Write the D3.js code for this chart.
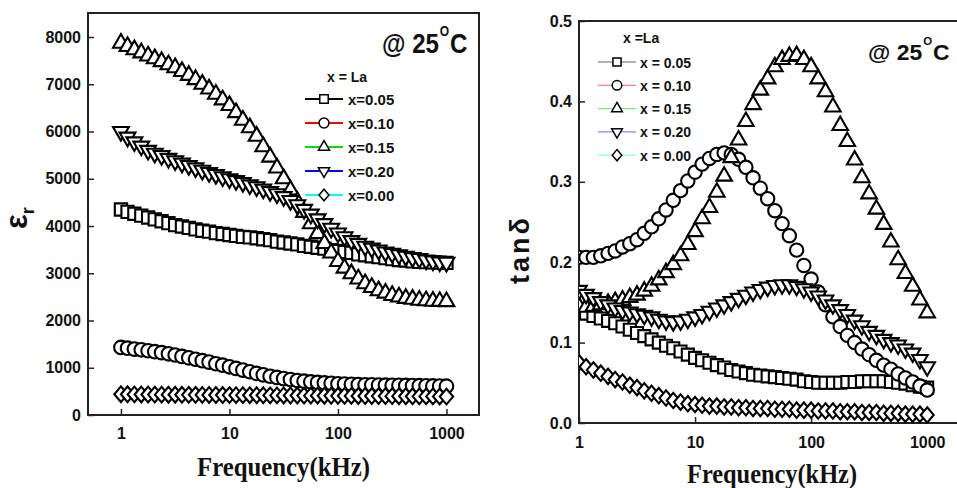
<!DOCTYPE html>
<html>
<head>
<meta charset="utf-8">
<script src="https://cdn.jsdelivr.net/npm/d3@7"></script>
<style>
  body { margin: 0; background: #fff; }
</style>
</head>
<body>
<svg id="chart" width="957" height="488"></svg>
<script>
// frequency points (kHz), one line per decade
const freqs = [
  1, 1.15, 1.33, 1.54, 1.78, 2.05, 2.37, 2.74, 3.16, 3.65, 4.22, 4.87, 5.62, 6.49, 7.50, 8.66,
  10, 11.5, 13.3, 15.4, 17.8, 20.5, 23.7, 27.4, 31.6, 36.5, 42.2, 48.7, 56.2, 64.9, 75.0, 86.6,
  100, 115, 133, 154, 178, 205, 237, 274, 316, 365, 422, 487, 562, 649, 750, 866,
  1000
]

const seriesNames = ["x=0.05", "x=0.10", "x=0.15", "x=0.20", "x=0.00"]
const seriesNamesTan = ["x = 0.05", "x = 0.10", "x = 0.15", "x = 0.20", "x = 0.00"]
const seriesColors = ["#000000", "#ff0000", "#00e000", "#0000ff", "#00ffff"]

// dielectric constant
const epsX005 = [
  4350, 4300, 4260, 4220, 4180, 4140, 4100, 4060, 4020, 3990, 3960, 3930, 3900, 3880, 3850, 3830,
  3810, 3790, 3770, 3760, 3740, 3720, 3700, 3670, 3650, 3630, 3610, 3580, 3560, 3540, 3520, 3490,
  3470, 3450, 3430, 3400, 3380, 3360, 3340, 3320, 3300, 3280, 3270, 3250, 3240, 3235, 3230, 3225,
  3220
]
const epsX010 = [
  1430, 1415, 1395, 1380, 1360, 1340, 1320, 1295, 1270, 1240, 1210, 1180, 1150, 1120, 1085, 1055,
  1020, 985, 950, 915, 880, 850, 820, 795, 770, 750, 730, 715, 700, 690, 680, 670,
  660, 655, 650, 645, 640, 638, 635, 632, 630, 628, 625, 622, 620, 618, 615, 612,
  610
]
const epsX015 = [
  7870, 7800, 7730, 7665, 7600, 7540, 7480, 7415, 7350, 7270, 7190, 7100, 7000, 6900, 6790, 6670,
  6550, 6400, 6240, 6080, 5900, 5680, 5460, 5230, 5000, 4760, 4520, 4290, 4050, 3840, 3630, 3430,
  3250, 3110, 2990, 2880, 2780, 2700, 2630, 2580, 2530, 2500, 2470, 2450, 2430, 2420, 2410, 2405,
  2400
]
const epsX020 = [
  6000, 5880, 5780, 5690, 5600, 5540, 5490, 5430, 5380, 5330, 5280, 5230, 5180, 5130, 5090, 5040,
  5000, 4960, 4920, 4870, 4830, 4780, 4730, 4680, 4620, 4540, 4450, 4350, 4250, 4150, 4050, 3950,
  3850, 3770, 3690, 3630, 3570, 3530, 3490, 3450, 3420, 3390, 3360, 3330, 3310, 3280, 3260, 3240,
  3230
]
const epsX000 = [
  440, 438, 436, 435, 434, 432, 431, 430, 429, 428, 427, 426, 425, 424, 423, 422,
  421, 420, 420, 419, 418, 417, 416, 415, 414, 413, 412, 411, 410, 409, 408, 407,
  406, 405, 404, 403, 402, 401, 400, 400, 399, 398, 397, 396, 395, 394, 393, 392,
  390
]

// loss tangent
const tanX005 = [
  0.140, 0.136, 0.133, 0.130, 0.127, 0.124, 0.120, 0.116, 0.112, 0.108, 0.104, 0.100, 0.096, 0.093, 0.089, 0.085,
  0.081, 0.078, 0.075, 0.072, 0.069, 0.066, 0.064, 0.062, 0.060, 0.059, 0.058, 0.057, 0.056, 0.055, 0.054, 0.052,
  0.051, 0.050, 0.050, 0.050, 0.050, 0.051, 0.051, 0.052, 0.052, 0.052, 0.052, 0.051, 0.050, 0.049, 0.047, 0.045,
  0.044
]
const tanX010 = [
  0.206, 0.206, 0.206, 0.208, 0.211, 0.214, 0.219, 0.223, 0.228, 0.236, 0.244, 0.254, 0.265, 0.277, 0.289, 0.301,
  0.312, 0.322, 0.329, 0.334, 0.336, 0.334, 0.328, 0.318, 0.305, 0.292, 0.279, 0.264, 0.248, 0.233, 0.215, 0.196,
  0.179, 0.163, 0.147, 0.132, 0.120, 0.109, 0.100, 0.092, 0.085, 0.078, 0.072, 0.067, 0.061, 0.056, 0.051, 0.046,
  0.041
]
const tanX015 = [
  0.145, 0.144, 0.145, 0.147, 0.149, 0.151, 0.153, 0.156, 0.159, 0.164, 0.170, 0.178, 0.187, 0.197, 0.208, 0.222,
  0.238, 0.254, 0.268, 0.287, 0.307, 0.330, 0.352, 0.375, 0.396, 0.414, 0.428, 0.443, 0.452, 0.456, 0.457, 0.452,
  0.443, 0.428, 0.412, 0.393, 0.370, 0.350, 0.327, 0.305, 0.285, 0.266, 0.247, 0.225, 0.203, 0.186, 0.170, 0.153,
  0.137
]
const tanX020 = [
  0.165, 0.160, 0.156, 0.151, 0.147, 0.143, 0.140, 0.138, 0.136, 0.134, 0.132, 0.129, 0.127, 0.126, 0.127, 0.129,
  0.132, 0.135, 0.139, 0.143, 0.147, 0.151, 0.155, 0.159, 0.163, 0.166, 0.169, 0.171, 0.172, 0.172, 0.170, 0.167,
  0.163, 0.158, 0.153, 0.147, 0.141, 0.135, 0.128, 0.121, 0.114, 0.109, 0.104, 0.100, 0.097, 0.092, 0.087, 0.079,
  0.070
]
const tanX000 = [
  0.075, 0.070, 0.066, 0.062, 0.058, 0.054, 0.051, 0.047, 0.044, 0.040, 0.037, 0.034, 0.031, 0.028, 0.026, 0.024,
  0.023, 0.022, 0.021, 0.021, 0.020, 0.020, 0.019, 0.019, 0.018, 0.018, 0.018, 0.017, 0.017, 0.017, 0.016, 0.016,
  0.016, 0.015, 0.015, 0.015, 0.014, 0.014, 0.014, 0.013, 0.013, 0.013, 0.012, 0.012, 0.012, 0.011, 0.011, 0.011,
  0.010
]

const freqTicks = [1, 10, 100, 1000]
const epsTicks = [0, 1000, 2000, 3000, 4000, 5000, 6000, 7000, 8000]
const tanTicks = [0, 0.1, 0.2, 0.3, 0.4, 0.5]

const FONT = "'Liberation Sans', Arial, sans-serif"
const SERIF = "'Liberation Serif', 'Times New Roman', serif"

const svg = d3.select("#chart")

// open diamond a bit wider than d3's own
const symDiamond = {
  draw(ctx, size) {
    const h = Math.sqrt(size / 1.7)
    const w = h * 0.85
    ctx.moveTo(0, -h)
    ctx.lineTo(w, 0)
    ctx.lineTo(0, h)
    ctx.lineTo(-w, 0)
    ctx.closePath()
  }
}
const shapes = [d3.symbolSquare, d3.symbolCircle, d3.symbolTriangle, d3.symbolTriangle, symDiamond]
const flipped = [false, false, false, true, false]

function markerTransform(k, px, py) {
  return `translate(${px},${py})` + (flipped[k] ? " rotate(180)" : "")
}

function drawPanel(p) {
  const x = d3.scaleLog().domain(p.xDomain).range([p.left, p.right])
  const y = d3.scaleLinear().domain(p.yDomain).range([p.bottom, p.top])
  const g = svg.append("g")

  const clipId = p.id + "-clip"
  svg.append("clipPath").attr("id", clipId)
    .append("rect")
    .attr("x", p.left).attr("y", p.top - 20)
    .attr("width", p.right - p.left).attr("height", p.bottom - p.top + 40)

  // axes (inward ticks)
  const xAxis = g.append("g")
    .attr("transform", `translate(0,${p.bottom})`)
    .call(d3.axisBottom(x).tickValues(freqTicks).tickFormat(d3.format("d"))
      .tickSize(-6).tickPadding(p.xPad))
  const yAxis = g.append("g")
    .attr("transform", `translate(${p.left},0)`)
    .call(d3.axisLeft(y).tickValues(p.yTicks).tickFormat(p.yFormat)
      .tickSize(-6).tickPadding(7))

  ;[xAxis, yAxis].forEach(a => {
    a.select(".domain").remove()
    a.selectAll("line").attr("stroke", "#222").attr("stroke-width", 1.5)
    a.selectAll("text")
      .attr("font-family", FONT)
      .attr("font-size", 16)
      .attr("font-weight", "bold")
      .attr("fill", "#111")
  })

  // frame
  g.append("rect")
    .attr("x", p.left).attr("y", p.top)
    .attr("width", p.right - p.left).attr("height", p.bottom - p.top)
    .attr("fill", "none").attr("stroke", "#222").attr("stroke-width", 2)

  // markers, later points on top
  p.series.forEach((vals, k) => {
    g.append("g").attr("clip-path", `url(#${clipId})`)
      .selectAll("path")
      .data(freqs.map((f, i) => [f, vals[i]]))
      .join("path")
      .attr("transform", d => markerTransform(k, x(d[0]), y(d[1])))
      .attr("d", d3.symbol(shapes[k], p.sizes[k]))
      .attr("fill", "#fff")
      .attr("stroke", "#000")
      .attr("stroke-width", 2.1)
  })

  // x title
  g.append("text")
    .attr("x", p.xTitle[0]).attr("y", p.xTitle[1])
    .attr("textLength", p.xTitle[2]).attr("lengthAdjust", "spacingAndGlyphs")
    .attr("font-family", SERIF).attr("font-size", 28).attr("font-weight", "bold")
    .attr("fill", "#111")
    .text("Frequency(kHz)")
}

function drawLegend(l) {
  const g = svg.append("g")
  g.append("text")
    .attr("x", l.titleX).attr("y", l.titleY)
    .attr("font-family", FONT).attr("font-size", 14).attr("font-weight", "bold")
    .attr("fill", "#111")
    .text(l.title)

  l.names.forEach((name, k) => {
    const yy = l.rowY + k * l.rowGap
    g.append("line")
      .attr("x1", l.x1).attr("x2", l.x2).attr("y1", yy).attr("y2", yy)
      .attr("stroke", seriesColors[k]).attr("stroke-width", l.lineWidth)
      .attr("stroke-opacity", l.lineOpacity)
    g.append("path")
      .attr("transform", markerTransform(k, (l.x1 + l.x2) / 2, yy))
      .attr("d", d3.symbol(shapes[k], l.sizes[k]))
      .attr("fill", "#fff").attr("stroke", "#000").attr("stroke-width", 1.5)
    g.append("text")
      .attr("x", l.textX).attr("y", yy + 5.5)
      .attr("font-family", FONT).attr("font-size", l.fontSize).attr("font-weight", "bold")
      .attr("fill", "#111")
      .text(name)
  })
}

// "@ 25°C" as one text with a raised "O"
function drawTemp(t) {
  const txt = svg.append("text")
    .attr("transform", `translate(${t.x},${t.base}) scale(${t.sx},1)`)
    .attr("font-family", FONT).attr("font-weight", "bold").attr("fill", "#111")
    .attr("font-size", t.size)
  txt.append("tspan").text("@ 25")
  txt.append("tspan").attr("font-size", t.size * 0.5).attr("dx", 1).attr("dy", -t.rise).text("O")
  txt.append("tspan").attr("dx", 1).attr("dy", t.rise).text("C")
}

// left panel: dielectric constant
drawPanel({
  id: "eps",
  left: 88, right: 479, top: 13, bottom: 415,
  xDomain: [0.497, 1995], yDomain: [0, 8508],
  yTicks: epsTicks, yFormat: d3.format("d"),
  xPad: 13,
  series: [epsX005, epsX010, epsX015, epsX020, epsX000],
  sizes: [150, 145, 108, 108, 104],
  xTitle: [197, 476, 173]
})

// right panel: loss tangent
drawPanel({
  id: "tan",
  left: 579, right: 962, top: 21, bottom: 423,
  xDomain: [1, 1995], yDomain: [0, 0.5],
  yTicks: tanTicks, yFormat: d3.format(".1f"),
  xPad: 14,
  series: [tanX005, tanX010, tanX015, tanX020, tanX000],
  sizes: [144, 140, 104, 104, 100],
  xTitle: [687, 483, 170]
})

drawLegend({
  title: "x = La", titleX: 327, titleY: 82,
  names: seriesNames, x1: 305, x2: 343, textX: 348,
  rowY: 99, rowGap: 24, lineWidth: 2.2, lineOpacity: 1,
  fontSize: 15, sizes: [72, 78, 54, 54, 58]
})

drawLegend({
  title: "x =La", titleX: 623, titleY: 43,
  names: seriesNamesTan, x1: 598, x2: 636, textX: 640,
  rowY: 62, rowGap: 23.3, lineWidth: 1, lineOpacity: 0.6,
  fontSize: 14, sizes: [66, 72, 50, 50, 54]
})

drawTemp({ x: 382, base: 53, size: 28, sx: 0.86, rise: 17 })
drawTemp({ x: 868, base: 60, size: 22, sx: 1.04, rise: 15 })

// y-axis titles
svg.append("text")
  .attr("transform", "translate(27,229) rotate(-90)")
  .attr("font-family", FONT).attr("font-weight", "bold").attr("fill", "#111")
  .call(t => {
    t.append("tspan").attr("font-size", 31).text("ε")
    t.append("tspan").attr("font-size", 18).attr("dy", 7).text("r")
  })

svg.append("text")
  .attr("transform", "translate(529,284) rotate(-90)")
  .attr("font-family", FONT).attr("font-weight", "bold").attr("font-size", 27)
  .attr("fill", "#111")
  .attr("textLength", 66).attr("lengthAdjust", "spacing")
  .text("tanδ")
</script>
</body>
</html>
